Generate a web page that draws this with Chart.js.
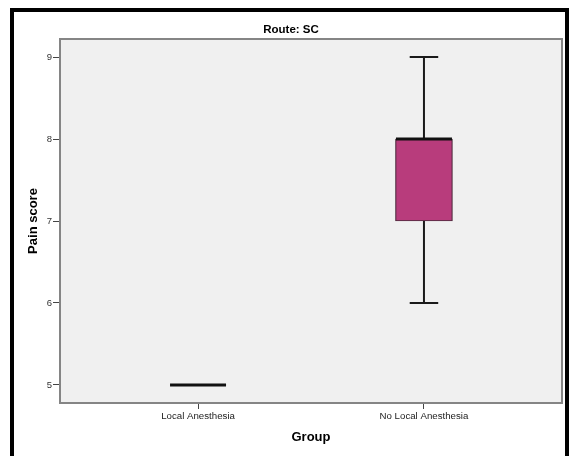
<!DOCTYPE html>
<html>
<head>
<meta charset="utf-8">
<script src="https://cdn.jsdelivr.net/npm/chart.js@4.4.1/dist/chart.umd.min.js"></script>
<style>
  html, body { margin: 0; padding: 0; background: #ffffff; }
  #wrap { position: relative; width: 571px; height: 456px; overflow: hidden; background: #ffffff; }
  #c { position: absolute; left: 0; top: 0; }
  #frame {
    position: absolute; left: 10px; top: 8px; width: 559px; height: 470px;
    box-sizing: border-box; border-top: 4px solid #000; border-left: 4px solid #000;
    border-right: 4px solid #000; pointer-events: none;
  }
</style>
</head>
<body>
<div id="wrap">
  <canvas id="c" width="571" height="456"></canvas>
  <div id="frame"></div>
</div>
<script>
// Pain score summaries per group (five-number summary for each box)
const groups = ['Local Anesthesia', 'No Local Anesthesia'];
const groupPositions = [0, 1];
const minScores = [5, 6];
const q1Scores = [5, 7];
const medianScores = [5, 8];
const q3Scores = [5, 8];
const maxScores = [5, 9];
const yTickValues = [5, 6, 7, 8, 9];

const FONT = '"Liberation Sans", Arial, Helvetica, sans-serif';

// Grey plot panel with a frame around it
const panelPlugin = {
  id: 'panel',
  beforeDatasetsDraw(chart) {
    const { ctx, chartArea: a } = chart;
    ctx.save();
    ctx.fillStyle = '#f0f0f0';
    ctx.fillRect(a.left, a.top, a.right - a.left, a.bottom - a.top);
    ctx.strokeStyle = '#858585';
    ctx.lineWidth = 2;
    ctx.strokeRect(a.left, a.top, a.right - a.left, a.bottom - a.top);
    ctx.restore();
  }
};

// Whiskers, caps and median lines of each box
const whiskerPlugin = {
  id: 'whiskers',
  afterDatasetsDraw(chart) {
    const { ctx } = chart;
    const xs = chart.scales.x, ys = chart.scales.y;
    const meta = chart.getDatasetMeta(0);
    ctx.save();
    groups.forEach((g, i) => {
      const x = xs.getPixelForValue(groupPositions[i]);
      const half = meta.data[i].width / 2;
      const capHalf = half / 2;
      const yMin = ys.getPixelForValue(minScores[i]);
      const yQ1 = ys.getPixelForValue(q1Scores[i]);
      const yMed = ys.getPixelForValue(medianScores[i]);
      const yQ3 = ys.getPixelForValue(q3Scores[i]);
      const yMax = ys.getPixelForValue(maxScores[i]);
      ctx.strokeStyle = '#1a1a1a';
      ctx.lineWidth = 2;
      ctx.beginPath();
      if (yMax < yQ3) { ctx.moveTo(x, yQ3); ctx.lineTo(x, yMax); }
      if (yMin > yQ1) { ctx.moveTo(x, yQ1); ctx.lineTo(x, yMin); }
      ctx.stroke();
      ctx.beginPath();
      if (yMax < yQ3) { ctx.moveTo(x - capHalf, yMax); ctx.lineTo(x + capHalf, yMax); }
      if (yMin > yQ1) { ctx.moveTo(x - capHalf, yMin); ctx.lineTo(x + capHalf, yMin); }
      ctx.stroke();
      ctx.strokeStyle = '#111111';
      ctx.lineWidth = 3;
      ctx.beginPath();
      ctx.moveTo(x - half + 0.5, yMed);
      ctx.lineTo(x + half - 0.5, yMed);
      ctx.stroke();
    });
    ctx.restore();
  }
};

new Chart(document.getElementById('c'), {
  type: 'bar',
  data: {
    datasets: [{
      data: groupPositions.map((p, i) => ({ x: p, y: [q1Scores[i], q3Scores[i]] })),
      backgroundColor: '#b83c7c',
      borderColor: '#4e2a3d',
      borderWidth: 1.2,
      borderSkipped: false,
      barThickness: 57
    }]
  },
  options: {
    responsive: false,
    devicePixelRatio: 1,
    animation: false,
    layout: { padding: { top: 0, left: 20, right: 9, bottom: 0 } },
    plugins: {
      legend: { display: false },
      tooltip: { enabled: false },
      title: {
        display: true,
        text: 'Route: SC',
        color: '#000',
        font: { family: FONT, size: 11.5, weight: 'bold', lineHeight: 1.2 },
        padding: { top: 22.6, bottom: 2.6 }
      }
    },
    scales: {
      x: {
        type: 'linear',
        min: -0.611,
        max: 1.611,
        offset: false,
        afterBuildTicks(scale) { scale.ticks = groupPositions.map(v => ({ value: v })); },
        afterFit(scale) { scale.height = 53; },
        ticks: {
          autoSkip: false,
          maxRotation: 0,
          padding: 2,
          color: '#222',
          font: { family: FONT, size: 9.7 },
          callback: (v) => groups[groupPositions.indexOf(v)] ?? ''
        },
        grid: { display: true, drawOnChartArea: false, drawTicks: true, tickLength: 6, color: '#444', offset: false },
        border: { display: false },
        title: {
          display: true,
          text: 'Group',
          color: '#000',
          font: { family: FONT, size: 13, weight: 'bold', lineHeight: 1.2 },
          padding: { top: 0, bottom: 11.2 }
        }
      },
      y: {
        type: 'linear',
        min: 4.78,
        max: 9.22,
        afterBuildTicks(scale) { scale.ticks = yTickValues.map(v => ({ value: v })); },
        afterFit(scale) { scale.width = 40; },
        ticks: {
          padding: 1,
          color: '#333',
          font: { family: FONT, size: 9.5 }
        },
        grid: { display: true, drawOnChartArea: false, drawTicks: true, tickLength: 7, color: '#444' },
        border: { display: false },
        title: {
          display: true,
          text: 'Pain score',
          color: '#000',
          font: { family: FONT, size: 13, weight: 'bold', lineHeight: 1.2 },
          padding: { top: 5.2, bottom: 0 }
        }
      }
    }
  },
  plugins: [panelPlugin, whiskerPlugin]
});
</script>
</body>
</html>
